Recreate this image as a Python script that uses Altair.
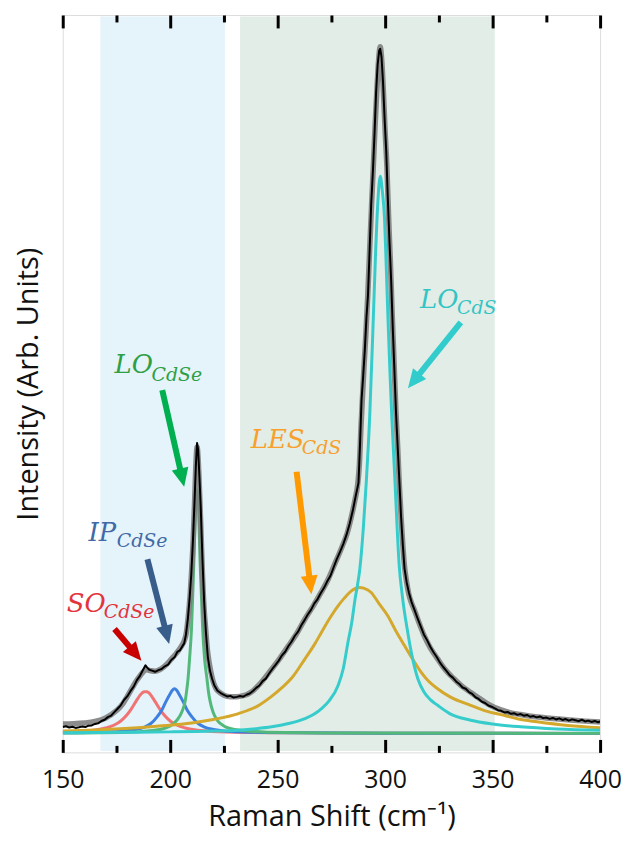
import math
import altair as alt
import pandas as pd

# ---------------- data ----------------
# measured spectrum (x = Raman shift in cm-1, y = intensity, arb.)
black_pts = [
    (150, 6.5), (151.5, 7.2), (153, 6.0), (154.5, 6.8), (156, 5.6), (157.5, 6.2), (159, 6.9),
    (160.5, 6.4), (162, 7.8), (163.5, 8.1), (165, 9.6), (166.5, 10.2), (168, 12.5), (169.5, 13.8),
    (171, 16.4), (172.5, 17.9), (174, 21.5), (175.5, 24.8), (177, 28.3), (178.5, 33.6), (180, 37.2),
    (181.5, 42.5), (183, 47.1), (184.5, 53.6), (186, 58.2), (187.5, 64.5), (188.5, 68.5), (189.3, 66.2),
    (190.3, 64.0), (191.5, 63.1), (193, 62.0), (194.5, 63.6), (196, 64.8), (197.5, 67.5), (199, 69.2),
    (200.5, 73.8), (202, 76.5), (203.3, 81.9), (204.5, 83.5), (205.6, 87.5), (206.5, 90.5), (207.3, 99),
    (208.2, 115), (209, 135), (209.8, 160), (210.6, 195), (211.4, 238), (212, 272), (212.5, 292),
    (213, 285), (213.6, 258), (214.2, 228), (215, 175), (215.8, 132), (216.6, 102), (217.5, 77),
    (218.5, 63), (219.5, 55), (220.5, 48.5), (222, 43.0), (223.5, 40.6), (225, 38.9), (226.5, 37.2),
    (228, 37.8), (229.5, 36.1), (231, 36.8), (232.5, 37.6), (234, 37.0), (235.5, 38.9), (237, 40.2),
    (238.5, 42.7), (240, 45.8), (241.5, 48.2), (243, 52.6), (244.5, 55.1), (246, 60.3), (247.5, 64.8),
    (249, 68.9), (250.5, 73.2), (252, 78.5), (253.5, 82.1), (255, 87.9), (256.5, 92.4), (258, 98.2),
    (259.5, 102.3), (261, 108.8), (262.5, 113.9), (264, 119.6), (265.5, 124.2), (267, 130.5),
    (268.5, 134.8), (270, 140.9), (271.5, 146.1), (273, 152.6), (274.5, 158.2), (276, 166.8),
    (277.5, 175.2), (279, 182.4), (280.5, 190.3), (282, 199.5), (283.5, 210.8), (285, 224.6),
    (286.3, 238.5), (287.6, 252.0), (288.3, 290), (289, 335), (289.8, 360), (290.5, 384), (291.3, 418),
    (292, 440), (292.8, 487), (293.5, 532), (294.3, 565), (295.1, 605), (295.8, 645), (296.5, 672),
    (297.2, 686), (297.7, 688), (298.3, 680), (299, 655), (299.7, 620), (300.5, 585), (301.2, 540),
    (302, 495), (302.8, 455), (303.5, 410), (304.3, 365), (305.1, 320), (305.9, 285), (306.7, 250),
    (307.4, 218), (308.2, 190), (309, 166), (310, 152), (311, 142), (312.3, 132), (313.6, 124.5),
    (315, 116.2), (316.5, 107.8), (318, 99.5), (319.5, 93.8), (321, 87.1), (322.5, 81.6), (324, 76.9),
    (325.5, 71.2), (327, 66.8), (328.5, 62.9), (330, 58.6), (331.5, 56.1), (333, 52.3), (334.5, 49.8),
    (336, 46.2), (337.5, 44.9), (339, 41.5), (340.5, 39.8), (342, 36.4), (343.5, 34.7), (345, 31.9),
    (346.5, 30.6), (348, 28.1), (349.5, 26.9), (351, 25.2), (352.5, 23.4), (354, 22.8), (355.5, 21.1),
    (357, 21.6), (358.5, 19.8), (360, 20.4), (361.5, 18.7), (363, 19.5), (364.5, 17.9), (366, 18.6),
    (367.5, 16.8), (369, 17.5), (370.5, 16.2), (372, 17.1), (373.5, 15.4), (375, 16.0), (376.5, 14.7),
    (378, 15.6), (379.5, 14.1), (381, 15.2), (382.5, 13.6), (384, 14.5), (385.5, 12.9), (387, 14.2),
    (388.5, 13.3), (390, 12.4), (391.5, 13.8), (393, 12.1), (394.5, 12.9), (396, 11.6), (397.5, 12.6),
    (399, 11.3), (400, 12.0),
]

# cumulative fit (grey)
fit_pts = [
    (150, 9.5), (155, 9.8), (160, 10.5), (165, 12), (170, 15.5), (175, 23), (178, 30), (180, 37),
    (182, 44.5), (184, 52), (186, 58), (187.5, 62), (189, 64), (191, 63), (193, 62.5), (195, 64),
    (197, 67), (199, 71), (201, 76), (203, 81), (205, 87), (206.5, 93), (207.5, 101), (208.5, 120),
    (209.3, 140), (210, 165), (210.7, 195), (211.3, 230), (211.9, 268), (212.5, 288), (213.1, 272),
    (213.7, 240), (214.4, 198), (215, 160), (215.7, 128), (216.5, 105), (217.2, 86), (218, 73),
    (219, 61), (220, 52), (221, 46.5), (222, 43), (223.5, 40.5), (225, 38.5), (228, 37), (231, 37),
    (234, 38), (236, 39.5), (238, 42), (240, 46), (243, 53), (247, 64), (251, 75.5), (255, 88),
    (259, 101), (262.7, 115), (266.5, 128), (270, 141), (273.5, 155), (276.5, 170), (280, 188),
    (282.3, 201), (284.3, 218), (286, 235), (287.2, 250), (288, 270), (288.8, 310), (289.5, 340),
    (290.2, 370), (291, 400), (291.9, 440), (292.8, 487), (293.7, 532), (294.5, 570), (295.3, 610),
    (296, 640), (296.8, 672), (297.7, 690), (298.5, 674), (299.3, 640), (300, 605), (300.8, 570),
    (301.6, 520), (302.5, 470), (303.3, 420), (304.2, 370), (305, 325), (305.9, 285), (306.6, 250),
    (307.4, 218), (308.2, 190), (309, 168), (310, 152), (311, 140), (312.3, 131), (313.6, 124),
    (315.8, 111), (318.2, 98), (321, 86), (324.4, 75), (328, 64), (332, 55), (336, 47), (340, 41),
    (344, 35), (347.5, 30), (351, 26), (355, 23), (359, 20.5), (363, 19), (367, 17.6), (371, 16.5),
    (378, 15), (386, 13.5), (393, 12.4), (400, 11.5),
]

# fitted components
so_pts = [
    (150, 1.4), (160, 2.5), (165, 3.5), (170, 5.5), (174, 8.5), (177, 12.5), (180, 19), (182, 25),
    (184, 32), (186, 38.5), (187, 40.8), (188, 42), (189, 42), (190, 41), (191, 38.5), (193, 32),
    (195, 25), (197, 19), (200, 12.5), (203, 8.5), (207, 5.5), (212, 3.5), (217, 2.5), (230, 1.3),
    (260, 0.6), (300, 0.3), (400, 0.1),
]
ip_pts = [
    (150, 0.6), (170, 1.5), (180, 2.8), (185, 4.5), (188, 6.5), (191, 10), (194, 17), (196, 23),
    (198, 32), (200, 40), (201, 43.5), (202, 45), (203, 43.5), (204, 40), (206, 32), (208, 23),
    (210, 17), (213, 10), (216, 6.5), (219, 4.5), (224, 2.8), (234, 1.5), (260, 0.7), (300, 0.3),
    (400, 0.1),
]
lo_cdse_pts = [
    (150, 0.4), (180, 1.2), (195, 4), (200, 7.5), (203, 13), (205.5, 22), (207, 33), (207.6, 42),
    (208.3, 55), (209, 75), (209.9, 105), (210.5, 140), (211, 172), (211.8, 225), (212.5, 245),
    (213.2, 225), (213.9, 172), (214.5, 140), (215.1, 105), (216, 75), (217.1, 55), (217.8, 42),
    (218.5, 33), (220, 21), (222, 13), (225, 7.5), (230, 4), (245, 1.3), (280, 0.4), (400, 0.1),
]
les_pts = [
    (150, 2.5), (165, 3.5), (179, 5), (195, 7.5), (210, 10.5), (220, 14), (231.8, 20), (241, 28),
    (247, 37), (252, 46), (257, 57), (262.7, 75), (267, 89), (270.4, 101.7), (274, 115),
    (278.1, 128.3), (281, 136), (284.3, 143.3), (286, 145.5), (288.1, 146.7), (290, 146),
    (293.5, 141.7), (297, 131), (301.2, 118.3), (305, 103), (309, 88.3), (313, 74), (316.7, 61.7),
    (320, 53), (324.4, 45), (330, 37), (339.8, 28.3), (347, 22.5), (355.3, 18.3), (362, 14.5),
    (370.7, 11.7), (385, 8), (400, 5.7),
]
lo_cds_pts = [
    (150, 0.8), (180, 1.2), (200, 1.6), (220, 2.4), (231.8, 3.3), (240, 4.8), (247.2, 6.7),
    (255, 10), (262.7, 15), (267, 19.5), (270.4, 25), (274, 33), (278.1, 48.3), (280.5, 65),
    (282.7, 91.7), (284.5, 112), (286, 135), (287.2, 150), (288.2, 165), (289.8, 205), (291.2, 252),
    (292.8, 318), (294.5, 418), (295.5, 480), (296.5, 530), (297.7, 560), (298.7, 545), (299.7, 518),
    (300.5, 470), (301.3, 418), (302.2, 365), (303.1, 318), (304.6, 252), (305.5, 210), (306.5, 170),
    (308, 138), (310.5, 101.7), (312.5, 78), (315.2, 55), (318, 42), (321, 34), (324.4, 28.3),
    (330, 20), (339.8, 13.3), (350, 9.5), (363, 6.7), (380, 4.5), (400, 3.2),
]

# shaded regions (cm-1)
band_start = [167.5, 232.5]
band_end = [225.5, 351.0]
band_color = ["#e5f3fb", "#e2ede7"]

x_ticks_major = [150, 200, 250, 300, 350, 400]
x_ticks_minor = [175, 225, 275, 325, 375]

# annotations (data units)
label_main = ["LO", "IP", "SO", "LES", "LO"]
label_sub = ["CdSe", "CdSe", "CdSe", "CdS", "CdS"]
label_color = ["#2ea043", "#4169a6", "#e3343c", "#f7a02c", "#33c4c4"]
label_x = [174.1, 162.0, 151.9, 237.5, 316.2]
label_y = [362, 193, 122, 287, 428]
sub_x = [191.3, 175.1, 169.1, 261.2, 333.4]
sub_y = [354, 187, 116, 281, 422]

arrow_color = ["#00b050", "#385d8a", "#c80000", "#ff9900", "#33cccc"]
arrow_x0 = [196.3, 189.4, 174.1, 258.8, 335.2]
arrow_y0 = [345, 175, 105, 263, 413]
arrow_x1 = [206.5, 199.5, 186.6, 265.7, 310.6]
arrow_y1 = [248, 90, 73, 140, 347]

# ---------------- layout ----------------
XMIN, XMAX = 150, 400
YMIN, YMAX = -19, 722
W, H = 540, 741
PXX = W / (XMAX - XMIN)
PXY = H / (YMAX - YMIN)

FONT = "Open Sans"
xscale = alt.Scale(domain=[XMIN, XMAX], nice=False, zero=False)
yscale = alt.Scale(domain=[YMIN, YMAX], nice=False, zero=False)

yaxis = alt.Axis(orient="left", domain=False, ticks=False, tickSize=0, labels=False, grid=False,
                 title="Intensity (Arb. Units)", titleFont=FONT, titleFontSize=29,
                 titleFontWeight="normal", titleColor="#111111", titlePadding=19)
Y = alt.Y("y:Q", scale=yscale, axis=yaxis)


def tick_axis(orient, values, size):
    return alt.Axis(orient=orient, values=values, ticks=True, tickSize=size, tickWidth=3,
                    tickColor="black", offset=-size, labels=False, domain=False, grid=False,
                    zindex=2)


main_xaxis = alt.Axis(orient="bottom", values=x_ticks_major, ticks=False, tickSize=0, domain=False,
                      grid=False, labelFont=FONT, labelFontSize=25, labelColor="#111111",
                      labelFlush=False, labelPadding=15, title="Raman Shift (cm⁻¹)",
                      titleFont=FONT, titleFontSize=29, titleFontWeight="normal",
                      titleColor="#111111", titlePadding=10)


def df_of(pts):
    return pd.DataFrame({"x": [p[0] for p in pts], "y": [p[1] for p in pts]})


bands = pd.DataFrame({"x": band_start, "x2": band_end, "c": band_color})
rects = alt.Chart(bands).mark_rect().encode(
    x=alt.X("x:Q", scale=xscale, axis=main_xaxis),
    x2="x2:Q",
    y=alt.value(1.5), y2=alt.value(H - 1.5),
    color=alt.Color("c:N", scale=None),
)


def curve(pts, color, width, axis=None, opacity=1.0):
    if axis is not None:
        xenc = alt.X("x:Q", scale=xscale, axis=axis, title=None)
    else:
        xenc = alt.X("x:Q", scale=xscale, axis=None)
    return alt.Chart(df_of(pts)).mark_line(color=color, strokeWidth=width, clip=True,
                                           opacity=opacity, strokeJoin="round",
                                           interpolate="monotone").encode(x=xenc, y=Y)


l_so = curve(so_pts, "#f07474", 3, tick_axis("bottom", x_ticks_major, 13))
l_ip = curve(ip_pts, "#3d80e0", 3, tick_axis("bottom", x_ticks_minor, 7))
l_lo1 = curve(lo_cdse_pts, "#52b97a", 3, tick_axis("top", x_ticks_major, 13))
l_les = curve(les_pts, "#d4a82c", 3, tick_axis("top", x_ticks_minor, 7))
l_lo2 = curve(lo_cds_pts, "#36cccc", 3)
l_fit = curve(fit_pts, "#7f7f7f", 5.5, opacity=0.9)
l_dat = alt.Chart(df_of(black_pts)).mark_line(color="#000000", strokeWidth=2, clip=True,
                                              strokeJoin="round").encode(
    x=alt.X("x:Q", scale=xscale, axis=None), y=Y)

# arrows
rows = []
for i in range(len(arrow_x0)):
    dxp = (arrow_x1[i] - arrow_x0[i]) * PXX
    dyp = -(arrow_y1[i] - arrow_y0[i]) * PXY
    L = math.hypot(dxp, dyp)
    ang = math.degrees(math.atan2(dxp, -dyp)) % 360
    back = 14.0
    xs = arrow_x1[i] - (dxp / L * back) / PXX
    ys = arrow_y1[i] + (dyp / L * back) / PXY
    rows.append({"x": arrow_x0[i], "y": arrow_y0[i], "x2": xs, "y2": ys,
                 "tx": arrow_x1[i], "ty": arrow_y1[i], "ang": ang, "c": arrow_color[i]})
arr = pd.DataFrame(rows)

shafts = alt.Chart(arr).mark_rule(strokeWidth=6, strokeCap="butt").encode(
    x=alt.X("x:Q", scale=xscale, axis=None), x2="x2:Q",
    y=alt.Y("y:Q", scale=yscale, axis=yaxis), y2="y2:Q",
    color=alt.Color("c:N", scale=None),
)
heads = alt.Chart(arr).mark_point(shape="M0,0L1,2.2L-1,2.2Z", filled=True, size=289, opacity=1,
                                  strokeWidth=0).encode(
    x=alt.X("tx:Q", scale=xscale, axis=None),
    y=alt.Y("ty:Q", scale=yscale, axis=yaxis, title="Intensity (Arb. Units)"),
    angle=alt.Angle("ang:Q", scale=None),
    color=alt.Color("c:N", scale=None),
)

labels = pd.DataFrame({"x": label_x, "y": label_y, "t": label_main, "c": label_color,
                       "sx": sub_x, "sy": sub_y, "st": label_sub})
t_main = alt.Chart(labels).mark_text(font="DejaVu Serif", fontStyle="italic", fontSize=26,
                                     align="left", baseline="alphabetic").encode(
    x=alt.X("x:Q", scale=xscale, axis=None), y=Y, text="t:N",
    color=alt.Color("c:N", scale=None))
t_sub = alt.Chart(labels).mark_text(font="DejaVu Serif", fontStyle="italic", fontSize=19,
                                    align="left", baseline="alphabetic").encode(
    x=alt.X("sx:Q", scale=xscale, axis=None),
    y=alt.Y("sy:Q", scale=yscale, axis=yaxis, title="Intensity (Arb. Units)"),
    text="st:N", color=alt.Color("c:N", scale=None))

chart = alt.layer(
    rects, l_so, l_ip, l_lo1, l_les, l_lo2, l_fit, l_dat, shafts, heads, t_main, t_sub
).resolve_axis(x="independent").properties(
    width=W, height=H,
    autosize=alt.AutoSizeParams(type="none"),
    padding={"left": 55, "top": 5, "right": 21, "bottom": 80},
).configure_view(stroke="black", strokeWidth=3).configure(background="white")

chart.save("out.html", embed_options={"renderer": "svg", "actions": False})
